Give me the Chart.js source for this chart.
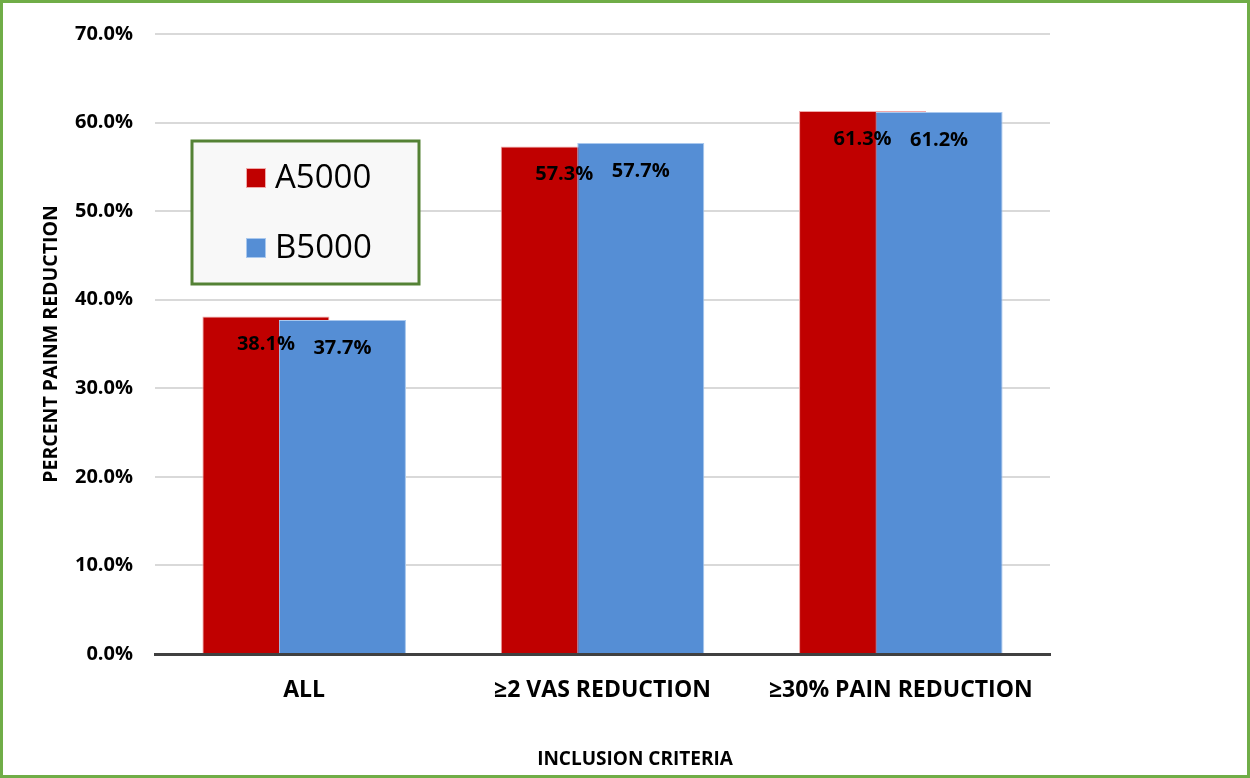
<!DOCTYPE html>
<html>
<head>
<meta charset="utf-8">
<script src="https://cdn.jsdelivr.net/npm/chart.js@4.4.0/dist/chart.umd.min.js"></script>
<style>
  html, body { margin: 0; padding: 0; background: #fff; }
  #wrap { position: relative; width: 1250px; height: 778px; }
  #frame { position: absolute; left: 0; top: 0; width: 1250px; height: 778px; box-sizing: border-box; border: 3px solid #70ad47; pointer-events: none; }
  canvas { position: absolute; left: 0; top: 0; }
</style>
</head>
<body>
<div id="wrap">
  <canvas id="c" width="1250" height="778"></canvas>
  <div id="frame"></div>
</div>
<script>
const categories = ['ALL', '≥2 VAS REDUCTION', '≥30% PAIN REDUCTION'];
const seriesNames = ['A5000', 'B5000'];
const seriesA = [38.1, 57.3, 61.3];
const seriesB = [37.7, 57.7, 61.2];
const yTicks = [0, 10, 20, 30, 40, 50, 60, 70];
const yTitle = 'PERCENT PAINM REDUCTION';
const xTitle = 'INCLUSION CRITERIA';

const FONT = '"Open Sans", "DejaVu Sans", sans-serif';

// Draw datasets in index order so the second series overlaps the first
const drawOrder = {
  id: 'drawOrder',
  beforeDatasetsDraw(chart) {
    const metas = chart.getSortedVisibleDatasetMetas();
    const area = chart.chartArea;
    const ctx = chart.ctx;
    metas.forEach(meta => {
      ctx.save();
      ctx.beginPath();
      ctx.rect(area.left, area.top - 5, area.right - area.left, area.bottom - area.top + 5);
      ctx.clip();
      meta.controller.draw();
      ctx.restore();
    });
    return false;
  }
};

const valueLabels = {
  id: 'valueLabels',
  afterDraw(chart) {
    const ctx = chart.ctx;
    ctx.save();
    ctx.font = 'bold 20px ' + FONT;
    ctx.fillStyle = '#000';
    ctx.textAlign = 'center';
    ctx.textBaseline = 'middle';
    chart.data.datasets.forEach((ds, i) => {
      const meta = chart.getDatasetMeta(i);
      meta.data.forEach((bar, j) => {
        ctx.fillText(ds.data[j].toFixed(1) + '%', bar.x, bar.y + 28);
      });
    });
    // x-axis title (offset to the right as in the original)
    ctx.font = 'bold 19px ' + FONT;
    ctx.fillText(xTitle, 635, 760);
    ctx.restore();
  }
};

const boxLegend = {
  id: 'boxLegend',
  afterDraw(chart) {
    const ctx = chart.ctx;
    const x0 = 192, y0 = 141, w = 227, h = 143;
    ctx.save();
    ctx.fillStyle = '#f8f8f8';
    ctx.fillRect(x0, y0, w, h);
    ctx.strokeStyle = '#548235';
    ctx.lineWidth = 3;
    ctx.strokeRect(x0, y0, w, h);
    ctx.font = '33px ' + FONT;
    ctx.textBaseline = 'middle';
    ctx.textAlign = 'left';
    chart.data.datasets.forEach((ds, i) => {
      const cy = 178 + i * 70;
      ctx.fillStyle = ds.backgroundColor;
      ctx.fillRect(246, cy - 10, 20, 20);
      ctx.strokeStyle = ds.borderColor;
      ctx.lineWidth = 1;
      ctx.strokeRect(246.5, cy - 9.5, 19, 19);
      ctx.fillStyle = '#000';
      ctx.fillText(ds.label, 275, cy + 1);
    });
    ctx.restore();
  }
};

new Chart(document.getElementById('c'), {
  type: 'bar',
  data: {
    labels: categories,
    datasets: [
      { label: seriesNames[0], data: seriesA, backgroundColor: '#c00000', borderColor: '#f0a8a8', borderWidth: 1 },
      { label: seriesNames[1], data: seriesB, backgroundColor: '#558ed5', borderColor: '#a9c8ee', borderWidth: 1 }
    ]
  },
  options: {
    responsive: false,
    animation: false,
    events: [],
    categoryPercentage: 0.513,
    barPercentage: 1.66,
    layout: { padding: { left: 0, right: 200, top: 31, bottom: 0 } },
    plugins: { legend: { display: false }, tooltip: { enabled: false } },
    scales: {
      x: {
        grid: { display: false, drawTicks: false },
        border: { display: true, color: '#404040', width: 3 },
        ticks: { color: '#000', font: { family: FONT, size: 23, weight: 'bold' }, padding: 23 },
        title: { display: false },
        afterFit(scale) { scale.height = 124; }
      },
      y: {
        min: 0, max: 70,
        afterBuildTicks(scale) { scale.ticks = yTicks.map(v => ({ value: v })); },
        grid: { color: '#d9d9d9', lineWidth: 2, drawTicks: false },
        border: { display: false },
        ticks: { color: '#000', font: { family: FONT, size: 20, weight: 'bold' }, padding: 22, callback: v => v.toFixed(1) + '%' },
        title: { display: true, text: yTitle, color: '#000', font: { family: FONT, size: 19.5, weight: 'bold' }, padding: { top: 40, bottom: 0 } },
        afterFit(scale) { scale.width = 155; }
      }
    }
  },
  plugins: [drawOrder, valueLabels, boxLegend]
});
</script>
</body>
</html>
